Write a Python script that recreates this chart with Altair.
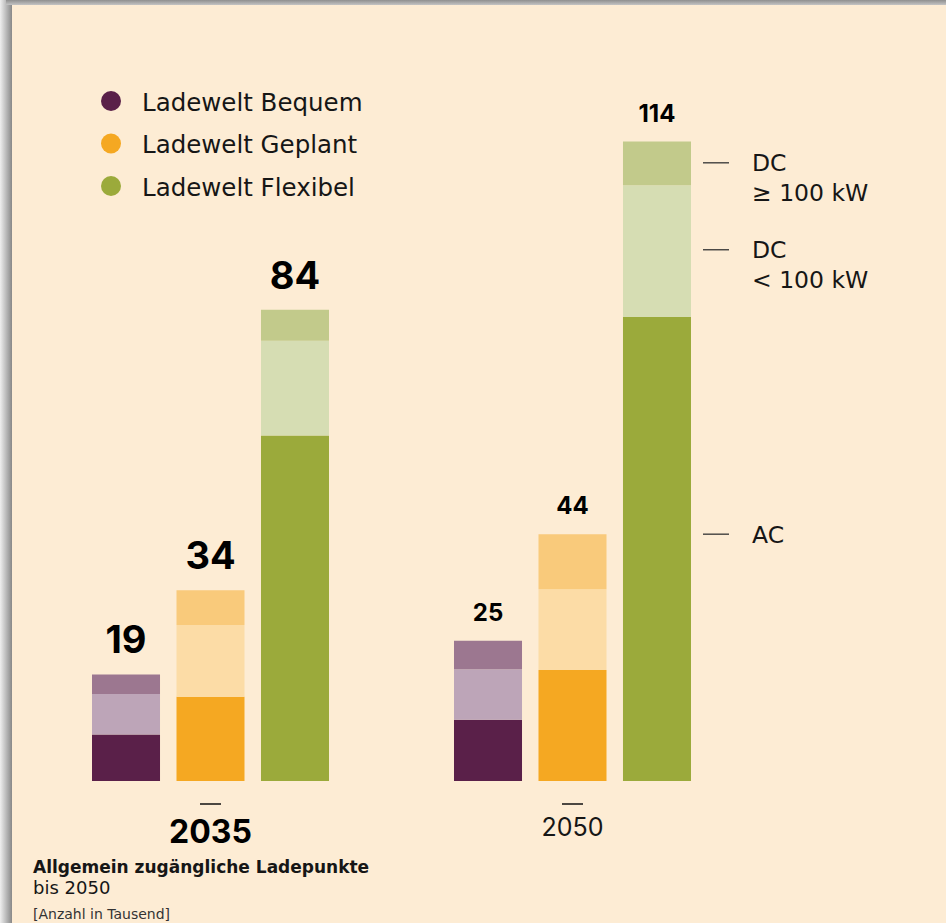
import altair as alt
import pandas as pd

# ---------------- data ----------------
years = ["2035", "2050"]
worlds = ["Ladewelt Bequem", "Ladewelt Geplant", "Ladewelt Flexibel"]
segments = ["AC", "DC < 100 kW", "DC ≥ 100 kW"]

# values in thousand, order: 2035 (Bequem, Geplant, Flexibel), 2050 (Bequem, Geplant, Flexibel)
ac = [8.3, 15.0, 61.6, 10.9, 19.8, 82.7]
dc_lt_100 = [7.2, 12.8, 16.9, 9.0, 14.4, 23.5]
dc_ge_100 = [3.5, 6.2, 5.5, 5.1, 9.8, 7.8]
totals = [19, 34, 84, 25, 44, 114]

world_colors = ["#5A2049", "#F5A822", "#9BAA3B"]
segment_colors = {
    "Ladewelt Bequem": ["#5A2049", "#BDA5B8", "#9C7790"],
    "Ladewelt Geplant": ["#F5A822", "#FCDCA6", "#F9CA7B"],
    "Ladewelt Flexibel": ["#9BAA3B", "#D6DDB3", "#C2CA8B"],
}

annotation_labels = ["DC\n≥ 100 kW", "DC\n< 100 kW", "AC"]
annotation_at = [110.2, 94.7, 44.0]  # in thousand, on the value axis

title_main = "Allgemein zugängliche Ladepunkte"
title_sub = "bis 2050"
title_unit = "[Anzahl in Tausend]"

FONT = "Inter"
TFONT = "DejaVu Sans"
INK = "#161616"
CREAM = "#FDECD4"

# ---------------- tables ----------------
rows = []
i = 0
for y in years:
    for w in worlds:
        lo = 0.0
        for s_idx, (seg, vals) in enumerate(zip(segments, [ac, dc_lt_100, dc_ge_100])):
            v = vals[i]
            rows.append({
                "year": y, "world": w, "segment": seg, "seg_idx": s_idx,
                "value": v, "lo": lo, "hi": lo + v, "key": f"{w}|{seg}",
            })
            lo += v
        i += 1
bars_df = pd.DataFrame(rows)

keys = [f"{w}|{s}" for w in worlds for s in segments]
key_colors = [segment_colors[w][j] for w in worlds for j in range(3)]

totals_df = pd.DataFrame({
    "year": [y for y in years for _ in worlds],
    "world": worlds * len(years),
    "total": totals,
})
years_df = pd.DataFrame({"year": years})
legend_df = pd.DataFrame({"world": worlds})
ann_df = pd.DataFrame({"label": annotation_labels, "at": annotation_at})

# ---------------- scales ----------------
xscale = alt.Scale(domain=years, range=[92, 691], paddingInner=0.3453, paddingOuter=0)
xoff = alt.XOffset("world:N", scale=alt.Scale(domain=worlds, paddingInner=0.195, paddingOuter=0))
yscale = alt.Scale(domain=[0, 114], range=[781, 141.5], nice=False, zero=True)

# ---------------- backdrop ----------------
shadow_left = alt.Chart(legend_df).mark_rect(
    color=alt.Gradient(gradient="linear", x1=0, y1=0, x2=1, y2=0,
                       stops=[alt.GradientStop(offset=0, color="#efefef"),
                              alt.GradientStop(offset=1, color="#888888")])
).encode(x=alt.value(0), x2=alt.value(12), y=alt.value(0), y2=alt.value(923))
shadow_top = alt.Chart(legend_df).mark_rect(
    color=alt.Gradient(gradient="linear", x1=0, y1=0, x2=0, y2=1,
                       stops=[alt.GradientStop(offset=0, color="#8f8f8f"),
                              alt.GradientStop(offset=1, color="#c4c4c4")])
).encode(x=alt.value(6), x2=alt.value(946), y=alt.value(0), y2=alt.value(5))
card = alt.Chart(legend_df).mark_rect(color=CREAM).encode(
    x=alt.value(12), x2=alt.value(946), y=alt.value(5), y2=alt.value(923)
)

# ---------------- bars ----------------
bars = alt.Chart(bars_df).mark_bar(stroke=None).encode(
    x=alt.X("year:N", scale=xscale, axis=None),
    xOffset=xoff,
    y=alt.Y("lo:Q", scale=yscale, axis=None),
    y2="hi:Q",
    color=alt.Color("key:N", scale=alt.Scale(domain=keys, range=key_colors), legend=None),
)

label_2035 = alt.Chart(totals_df).transform_filter(alt.datum.year == "2035").mark_text(
    font=FONT, fontSize=38, fontWeight="bold", color="#000", baseline="alphabetic", dy=-21
).encode(
    x=alt.X("year:N", scale=xscale, axis=None), xOffset=xoff,
    y=alt.Y("total:Q", scale=yscale, axis=None), text="total:Q",
)
label_2050 = alt.Chart(totals_df).transform_filter(alt.datum.year == "2050").mark_text(
    font=FONT, fontSize=24, fontWeight="bold", color="#000", baseline="alphabetic", dy=-20
).encode(
    x=alt.X("year:N", scale=xscale, axis=None), xOffset=xoff,
    y=alt.Y("total:Q", scale=yscale, axis=None), text="total:Q",
)

# ---------------- year labels ----------------
year_ticks = alt.Chart(years_df).mark_tick(
    orient="horizontal", size=21, thickness=1.5, color="#111", opacity=1
).encode(x=alt.X("year:N", scale=xscale, axis=None), y=alt.value(804))
year_2035 = alt.Chart(years_df).transform_filter(alt.datum.year == "2035").mark_text(
    font=FONT, fontSize=32, fontWeight="bold", color="#000", baseline="alphabetic"
).encode(x=alt.X("year:N", scale=xscale, axis=None), y=alt.value(843), text="year:N")
year_2050 = alt.Chart(years_df).transform_filter(alt.datum.year == "2050").mark_text(
    font=FONT, fontSize=25, color=INK, baseline="alphabetic"
).encode(x=alt.X("year:N", scale=xscale, axis=None), y=alt.value(836), text="year:N")

# ---------------- right annotations ----------------
ann_rules = alt.Chart(ann_df).mark_rule(color="#333", strokeWidth=1.3).encode(
    x=alt.value(703), x2=alt.value(729),
    y=alt.Y("at:Q", scale=yscale, axis=None),
)
ann_text = alt.Chart(ann_df).mark_text(
    font=TFONT, fontSize=23.5, color=INK, align="left", baseline="alphabetic",
    dy=8.5, lineBreak="\n", lineHeight=30,
).encode(
    x=alt.value(752), y=alt.Y("at:Q", scale=yscale, axis=None), text="label:N",
)

# ---------------- legend ----------------
leg_y = alt.Y("world:N", scale=alt.Scale(domain=worlds, range=[101, 186], padding=0), axis=None)
leg_dots = alt.Chart(legend_df).mark_circle(size=400, opacity=1).encode(
    x=alt.value(111), y=leg_y,
    color=alt.Color("world:N", scale=alt.Scale(domain=worlds, range=world_colors), legend=None),
)
leg_text = alt.Chart(legend_df).mark_text(
    font=TFONT, fontSize=24.5, color=INK, align="left", baseline="middle", dy=2.5
).encode(x=alt.value(142), y=leg_y, text="world:N")

# ---------------- footer ----------------
foot = pd.DataFrame({"t": [title_main, title_sub, title_unit]})
f1 = alt.Chart(foot).transform_filter(alt.datum.t == title_main).mark_text(
    font=TFONT, fontSize=17, fontWeight="bold", color=INK, align="left", baseline="alphabetic"
).encode(x=alt.value(33), y=alt.value(873), text="t:N")
f2 = alt.Chart(foot).transform_filter(alt.datum.t == title_sub).mark_text(
    font=TFONT, fontSize=18, color=INK, align="left", baseline="alphabetic"
).encode(x=alt.value(33), y=alt.value(894), text="t:N")
f3 = alt.Chart(foot).transform_filter(alt.datum.t == title_unit).mark_text(
    font=TFONT, fontSize=14, color="#333", align="left", baseline="alphabetic"
).encode(x=alt.value(33), y=alt.value(919), text="t:N")

chart = alt.layer(
    shadow_left, shadow_top, card,
    bars, label_2035, label_2050,
    year_ticks, year_2035, year_2050,
    ann_rules, ann_text,
    leg_dots, leg_text,
    f1, f2, f3,
).resolve_scale(
    y="independent", color="independent"
).properties(
    width=946, height=923, padding=0,
    autosize=alt.AutoSizeParams(type="none"),
    background="#e8e8e8",
).configure_view(stroke=None)

chart.save("out.html", embed_options={"renderer": "svg", "actions": False})
